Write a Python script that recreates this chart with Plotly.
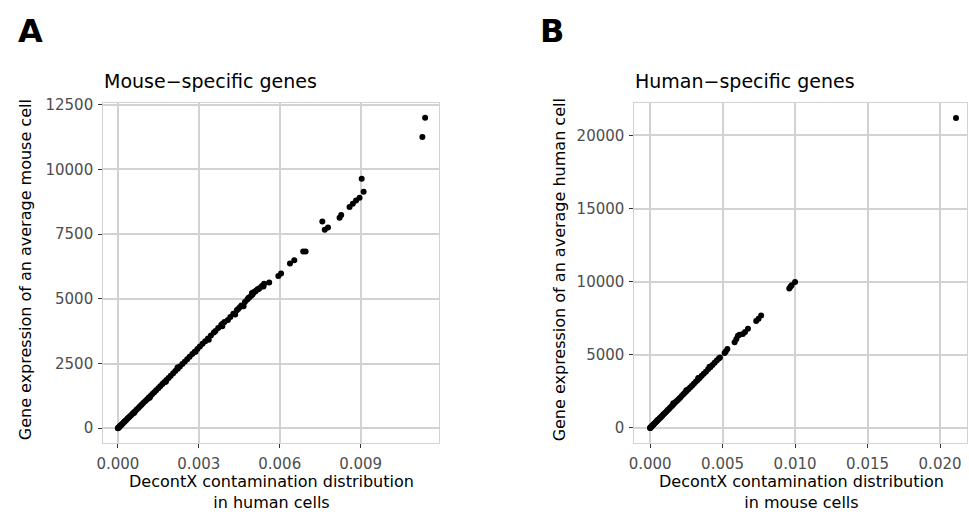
import plotly.graph_objects as go

# ---------------- data ----------------
mouse_x = [0.00000, 0.00001, 0.00002, 0.00004, 0.00005, 0.00007, 0.00009, 0.00011, 0.00013, 0.00016,
           0.00019, 0.00022, 0.00025, 0.00028, 0.00032, 0.00036, 0.00040, 0.00044, 0.00049, 0.00054,
           0.00059, 0.00064, 0.00070, 0.00076, 0.00082, 0.00088, 0.00094, 0.00101, 0.00108, 0.00114,
           0.00121, 0.00128, 0.00135, 0.00142, 0.00150, 0.00157, 0.00165, 0.00172, 0.00180, 0.00188,
           0.00196, 0.00205, 0.00213, 0.00222, 0.00230, 0.00239, 0.00248, 0.00257, 0.00266, 0.00276,
           0.00285, 0.00295, 0.00304, 0.00314, 0.00324, 0.00334, 0.00345, 0.00356, 0.00362, 0.00372,
           0.00383, 0.00388, 0.00395, 0.00408, 0.00417, 0.00428, 0.00435, 0.00441, 0.00446, 0.00452,
           0.00458, 0.00466, 0.00471, 0.00480, 0.00484, 0.00488, 0.00495, 0.00497, 0.00500, 0.00503,
           0.00509, 0.00511, 0.00518, 0.00521, 0.00526, 0.00534, 0.00540, 0.00542, 0.00561,
           0.00595, 0.00605, 0.00638, 0.00654, 0.00687, 0.00696, 0.00758, 0.00767, 0.00779,
           0.00822, 0.00828, 0.00859, 0.00871, 0.00883, 0.00896, 0.00904, 0.00911, 0.01129, 0.01139,
           0.00060, 0.00118, 0.00178, 0.00221, 0.00288, 0.00337, 0.00387]
mouse_y = [0, 10, 22, 40, 52, 70, 92, 112, 135, 165,
           195, 228, 258, 290, 330, 372, 412, 455, 505, 556,
           610, 660, 722, 785, 846, 910, 972, 1045, 1115, 1180,
           1250, 1322, 1395, 1468, 1550, 1625, 1705, 1780, 1862, 1945,
           2030, 2125, 2208, 2300, 2385, 2478, 2570, 2665, 2760, 2865,
           2960, 3060, 3155, 3260, 3365, 3470, 3585, 3700, 3762, 3870,
           3985, 4040, 4110, 4180, 4300, 4420, 4395, 4560, 4610, 4680,
           4740, 4713, 4880, 4970, 5030, 5060, 5130, 5221, 5180, 5250,
           5285, 5300, 5370, 5373, 5420, 5500, 5476, 5580, 5628,
           5880, 5983, 6365, 6490, 6833, 6833, 7990, 7670, 7760,
           8130, 8244, 8550, 8677, 8803, 8906, 9642, 9135, 11250, 12000,
           585, 1180, 1800, 2350, 2960, 3420, 3940]

human_x = [0.00000, 0.00001, 0.00002, 0.00003, 0.00005, 0.00007, 0.00009, 0.00011, 0.00014, 0.00017,
           0.00020, 0.00024, 0.00028, 0.00032, 0.00037, 0.00042, 0.00047, 0.00052, 0.00058, 0.00064,
           0.00070, 0.00077, 0.00084, 0.00091, 0.00098, 0.00106, 0.00114, 0.00122, 0.00130, 0.00139,
           0.00148, 0.00157, 0.00166, 0.00176, 0.00186, 0.00196, 0.00207, 0.00218, 0.00229, 0.00240,
           0.00252, 0.00264, 0.00276, 0.00289, 0.00302, 0.00315, 0.00328, 0.00342, 0.00356, 0.00370,
           0.00385, 0.00400, 0.00415, 0.00430, 0.00445, 0.00460, 0.00474, 0.00482,
           0.00514, 0.00522, 0.00533, 0.00583, 0.00595, 0.00606, 0.00617, 0.00640, 0.00655, 0.00675,
           0.00732, 0.00748, 0.00766, 0.00960, 0.00968, 0.00976, 0.01000, 0.02110,
           0.00050, 0.00160, 0.00250, 0.00332, 0.00410]
human_y = [0, 8, 20, 30, 48, 70, 92, 110, 138, 172,
           200, 238, 282, 320, 372, 420, 470, 522, 580, 642,
           700, 772, 840, 912, 985, 1060, 1140, 1222, 1300, 1392,
           1480, 1575, 1665, 1765, 1862, 1960, 2072, 2180, 2295, 2402,
           2525, 2640, 2765, 2890, 3025, 3150, 3285, 3420, 3565, 3700,
           3850, 4005, 4150, 4305, 4450, 4605, 4740, 4820,
           5120, 5230, 5400, 5860, 6080, 6300, 6380, 6420, 6560, 6790,
           7310, 7470, 7690, 9530, 9650, 9750, 9980, 21190,
           530, 1680, 2580, 3420, 4180]

mouse_xticks = [0.000, 0.003, 0.006, 0.009]
mouse_yticks = [0, 2500, 5000, 7500, 10000, 12500]
human_xticks = [0.000, 0.005, 0.010, 0.015, 0.020]
human_yticks = [0, 5000, 10000, 15000, 20000]

# ---------------- figure ----------------
W, H = 969, 515
FONT = "DejaVu Sans"
GRID = "#D2D2D2"


def px(x):
    return x / W


def py(y):
    return 1 - y / H


fig = go.Figure()
fig.add_trace(go.Scatter(x=mouse_x, y=mouse_y, mode="markers",
                         marker=dict(color="black", size=6, line=dict(width=0)),
                         xaxis="x", yaxis="y", showlegend=False, hoverinfo="x+y"))
fig.add_trace(go.Scatter(x=human_x, y=human_y, mode="markers",
                         marker=dict(color="black", size=6, line=dict(width=0)),
                         xaxis="x2", yaxis="y2", showlegend=False, hoverinfo="x+y"))

common = dict(showgrid=True, gridcolor=GRID, gridwidth=1.5, zeroline=False,
              showline=True, linecolor=GRID, linewidth=1.2, mirror=True,
              ticks="outside", ticklen=4, tickwidth=1.2, tickcolor="#333333",
              tickfont=dict(family=FONT, size=15, color="#4D4D4D"))

fig.update_layout(
    width=W, height=H,
    margin=dict(l=0, r=0, t=0, b=0),
    paper_bgcolor="white", plot_bgcolor="white",
    font=dict(family=FONT, color="black"),
    xaxis=dict(domain=[px(97), px(435)], range=[-0.00054, 0.0119], anchor="y",
               tickvals=mouse_xticks, ticktext=[f"{v:.3f}" for v in mouse_xticks],
               ticklabelstandoff=3, **common),
    yaxis=dict(domain=[py(442), py(97)], range=[-570, 12580], anchor="x",
               tickvals=mouse_yticks, ticktext=[str(v) for v in mouse_yticks],
               ticklabelstandoff=2, **common),
    xaxis2=dict(domain=[px(632), px(967)], range=[-0.00108, 0.02186], anchor="y2",
                tickvals=human_xticks, ticktext=[f"{v:.3f}" for v in human_xticks],
                ticklabelstandoff=3, **common),
    yaxis2=dict(domain=[py(442), py(97)], range=[-1030, 22244], anchor="x2",
                tickvals=human_yticks, ticktext=[str(v) for v in human_yticks],
                ticklabelstandoff=2, **common),
)

ann = []
# panel letters
ann.append(dict(text="<b>A</b>", x=px(9), y=py(24), xanchor="left", yanchor="middle",
                font=dict(family=FONT, size=32, color="black")))
ann.append(dict(text="<b>B</b>", x=px(535), y=py(24), xanchor="left", yanchor="middle",
                font=dict(family=FONT, size=32, color="black")))
# panel titles
ann.append(dict(text="Mouse\u2212specific genes", x=px(96), y=py(75), xanchor="left", yanchor="middle",
                font=dict(family=FONT, size=19, color="black")))
ann.append(dict(text="Human\u2212specific genes", x=px(631), y=py(75), xanchor="left", yanchor="middle",
                font=dict(family=FONT, size=19, color="black")))
# x axis titles
ann.append(dict(text="DecontX contamination distribution<br>in human cells", x=px(266), y=py(492),
                xanchor="center", yanchor="middle",
                font=dict(family=FONT, size=16, color="black")))
ann.append(dict(text="DecontX contamination distribution<br>in mouse cells", x=px(800), y=py(492),
                xanchor="center", yanchor="middle",
                font=dict(family=FONT, size=16, color="black")))
# y axis titles
ann.append(dict(text="Gene expression of an average mouse cell", x=px(19), y=py(266),
                xanchor="center", yanchor="middle", textangle=-90,
                font=dict(family=FONT, size=16, color="black")))
ann.append(dict(text="Gene expression of an average human cell", x=px(556), y=py(266),
                xanchor="center", yanchor="middle", textangle=-90,
                font=dict(family=FONT, size=16, color="black")))
for a in ann:
    a.update(xref="paper", yref="paper", showarrow=False)
fig.update_layout(annotations=ann)

fig.write_html("out.html",
               config={"displayModeBar": False},
               post_script="document.body.style.margin='0';document.body.style.padding='0';"
                           "document.body.style.overflow='hidden';")
